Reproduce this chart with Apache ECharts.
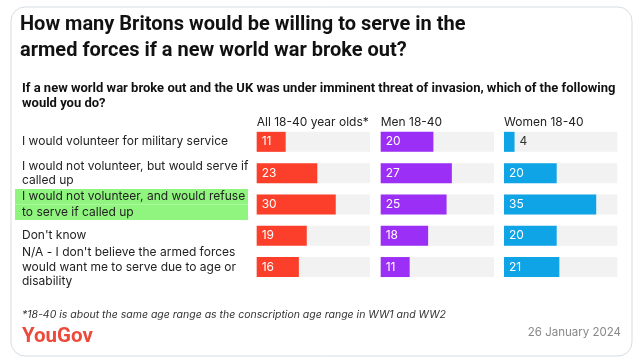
<!DOCTYPE html>
<html><head><meta charset="utf-8">
<script src="https://cdn.jsdelivr.net/npm/echarts@6/dist/echarts.min.js"></script>
<style>html,body{margin:0;padding:0;background:#fff}#c{width:638px;height:359px}</style>
</head><body><div id="c"></div>
<script>
var categories = [
  "I would volunteer for military service",
  "I would not volunteer, but would serve if\ncalled up",
  "I would not volunteer, and would refuse\nto serve if called up",
  "Don't know",
  "N/A - I don't believe the armed forces\nwould want me to serve due to age or\ndisability"
];
var groups = ["All 18-40 year olds*", "Men 18-40", "Women 18-40"];
var allValues = [11, 23, 30, 19, 16];
var menValues = [20, 27, 25, 18, 11];
var womenValues = [4, 20, 35, 20, 21];
var highlightIndex = 2;

var FONT = "Inter, 'Liberation Sans', sans-serif";
var HFONT = "Roboto, 'Liberation Sans', sans-serif";
var colors = ['#fc3f2b', '#9c2ff5', '#0ea4e6'];
var seriesData = [allValues, menValues, womenValues];
var colLeft = [256.7, 380.7, 504];
var colW = 113.3;
var gTop = 126.2, gH = 156.5;

var grids = [], xAxes = [], yAxes = [], series = [], titles = [];
for (var g = 0; g < 3; g++) {
  grids.push({left: colLeft[g], width: colW, top: gTop, height: gH, containLabel: false});
  xAxes.push({gridIndex: g, type: 'value', min: 0, max: 43, show: false});
  var ya = {gridIndex: g, type: 'category', inverse: true, data: categories,
    axisLine: {show: false}, axisTick: {show: false}, splitLine: {show: false},
    axisLabel: {show: false}};
  if (g === 0) {
    ya.axisLabel = {
      show: true, align: 'left', margin: colLeft[0] - 15, fontFamily: FONT,
      fontSize: 12, color: '#222',
      formatter: function (v, i) {
        var sty = (i === highlightIndex) ? 'hl' : 'n';
        return v.split('\n').map(function (l) { return '{' + sty + '|' + l + '}'; }).join('\n');
      },
      rich: {
        n: {fontFamily: FONT, fontSize: 12, color: '#222', lineHeight: 14.3, padding: [0, 0, 0, 7]},
        hl: {fontFamily: FONT, fontSize: 12, color: '#222', lineHeight: 15.5, height: 15.5,
             backgroundColor: '#8ff57e', width: 226, padding: [0, 0, 0, 7]}
      }
    };
  }
  yAxes.push(ya);
  series.push({
    type: 'bar', xAxisIndex: g, yAxisIndex: g, barWidth: 20,
    showBackground: true, backgroundStyle: {color: '#f2f2f2'},
    itemStyle: {color: colors[g]},
    label: {show: true, position: 'insideLeft', offset: [0, 0], color: '#fff',
            fontFamily: FONT, fontSize: 12},
    data: seriesData[g].map(function (v) {
      return v < 8 ? {value: v, label: {position: 'right', color: '#333', offset: [0, 0]}} : v;
    })
  });
  titles.push({text: groups[g], left: colLeft[g], top: 116, padding: 0,
    textStyle: {fontFamily: FONT, fontSize: 12, fontWeight: 'normal', color: '#222'}});
}

titles.push({text: 'How many Britons would be willing to serve in the\narmed forces if a new world war broke out?',
  left: 20, top: 11.5, padding: 0, textStyle: {fontFamily: HFONT, fontSize: 20, fontWeight: 'bold', color: '#111', lineHeight: 26}});
titles.push({text: 'If a new world war broke out and the UK was under imminent threat of invasion, which of the following\nwould you do?',
  left: 22, top: 81.5, padding: 0, textStyle: {fontFamily: HFONT, fontSize: 13, fontWeight: 'bold', color: '#111', lineHeight: 15}});
titles.push({text: '*18-40 is about the same age range as the conscription age range in WW1 and WW2',
  left: 22, top: 309, padding: 0, textStyle: {fontFamily: FONT, fontSize: 10.5, fontStyle: 'italic', fontWeight: 'normal', color: '#333'}});
titles.push({text: 'YouGov', left: 22, top: 326, padding: 0,
  textStyle: {fontFamily: HFONT, fontSize: 20.5, fontWeight: 'bold', color: '#ec4a3b'}});
titles.push({text: '26 January 2024', right: 17, top: 327, padding: 0,
  textStyle: {fontFamily: FONT, fontSize: 11.5, fontWeight: 'normal', color: '#888'}});

var chart = echarts.init(document.getElementById('c'), null, {renderer: 'canvas'});
chart.setOption({
  animation: false,
  backgroundColor: '#fff',
  title: titles,
  grid: grids, xAxis: xAxes, yAxis: yAxes, series: series,
  graphic: [{type: 'rect', shape: {x: 11, y: 7, width: 621, height: 349, r: 14},
    style: {fill: 'none', stroke: '#d6dde3', lineWidth: 1}, z: -1}]
});
</script></body></html>
